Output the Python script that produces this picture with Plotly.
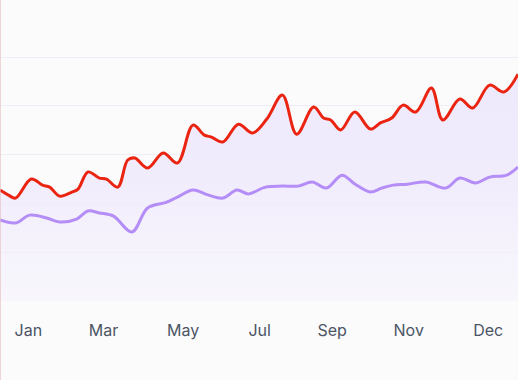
import plotly.graph_objects as go

# Day-of-year positions and values
red_days = [0, 6, 11, 22, 30, 35, 42, 51, 55, 62, 70, 75, 83, 90, 95, 104, 115, 125,
            136, 144, 149, 157, 168, 178, 188, 199, 209, 221, 228, 233, 240, 250, 261,
            268, 276, 284, 293, 304, 312, 324, 333, 345, 355, 365]
red_values = [45.5, 43.4, 42.2, 50.0, 47.5, 46.7, 43.0, 44.7, 45.9, 52.9, 50.4, 50.0, 46.7,
              57.8, 58.6, 54.5, 60.7, 56.6, 72.1, 68.0, 67.2, 65.2, 72.5, 68.9, 74.6, 84.4,
              68.4, 79.5, 75.0, 74.2, 70.1, 77.5, 70.5, 73.0, 75.0, 80.3, 77.5, 87.3, 74.2,
              82.8, 79.1, 88.5, 85.7, 93.0]

purple_days = [0, 11, 21, 33, 42, 54, 62, 70, 80, 93, 104, 117, 125, 136, 147, 157, 167,
               175, 187, 199, 210, 220, 230, 241, 250, 261, 269, 277, 287, 300, 314, 324,
               335, 345, 357, 365]
purple_values = [33.2, 32.0, 35.2, 34.0, 32.4, 33.6, 36.9, 36.1, 34.8, 28.3, 38.1, 40.4,
                 42.6, 45.5, 43.4, 42.2, 45.5, 43.9, 46.7, 47.1, 47.1, 48.8, 46.3, 51.6,
                 48.0, 44.7, 46.3, 47.5, 47.9, 48.8, 46.3, 50.4, 48.4, 50.8, 51.6, 54.9]

tick_days = [20, 73, 129, 183, 234, 288, 344]
tick_labels = ["Jan", "Mar", "May", "Jul", "Sep", "Nov", "Dec"]

BG = "#fbfbfc"

fig = go.Figure()
fig.add_trace(go.Scatter(
    x=red_days, y=red_values, mode="lines",
    line=dict(color="#ea2410", width=3, shape="spline", smoothing=1.0),
    fill="tozeroy",
    fillgradient=dict(type="vertical", start=0, stop=95,
                      colorscale=[[0, "rgba(245,242,252,0.5)"],
                                  [0.5, "rgba(240,235,252,0.9)"],
                                  [1, "rgba(238,232,252,1)"]]),
    hoverinfo="skip", showlegend=False,
))
fig.add_trace(go.Scatter(
    x=purple_days, y=purple_values, mode="lines",
    line=dict(color="#b48df6", width=3, shape="spline", smoothing=1.0),
    hoverinfo="skip", showlegend=False,
))

fig.update_layout(
    width=518, height=380,
    margin=dict(l=0, r=0, t=20, b=79),
    paper_bgcolor=BG, plot_bgcolor=BG,
    font=dict(family="Inter, Roboto, sans-serif"),
    xaxis=dict(range=[0, 365], tickvals=tick_days, ticktext=tick_labels,
               showgrid=False, zeroline=False, showline=False,
               ticks="outside", ticklen=15, tickcolor="rgba(0,0,0,0)",
               tickfont=dict(size=16, color="#4b5565")),
    yaxis=dict(range=[0, 115.2], dtick=20, showticklabels=False,
               gridcolor="#f0edf8", gridwidth=1, zeroline=False, showline=False),
    shapes=[dict(type="line", xref="paper", yref="paper", x0=0, x1=0, y0=-1, y1=2,
                 line=dict(color="rgba(225,190,190,0.6)", width=2))],
)

fig.write_html("out.html", config={"displayModeBar": False},
               post_script="document.body.style.margin='0px';document.body.style.overflow='hidden';")
